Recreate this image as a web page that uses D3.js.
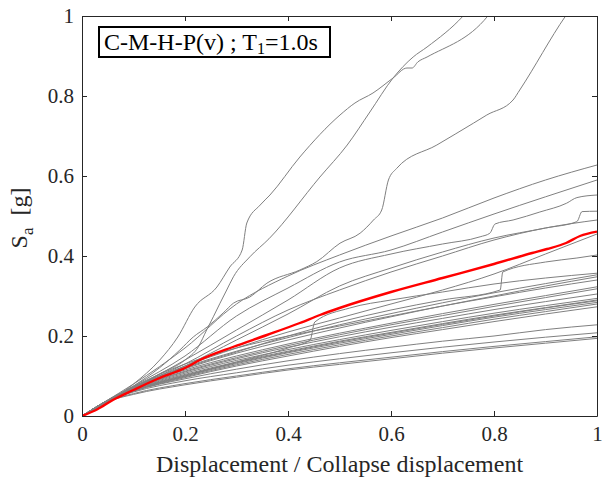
<!DOCTYPE html>
<html>
<head>
<meta charset="utf-8">
<script src="https://cdn.jsdelivr.net/npm/d3@7"></script>
<style>
  html, body { margin: 0; padding: 0; background: #fff; }
  svg { display: block; }
  svg text { font-family: "Liberation Serif", "Times New Roman", Times, "DejaVu Serif", serif !important; fill: #262626; }
</style>
</head>
<body>
<svg id="chart" width="615" height="479"></svg>
<script>
// ---------------- data ----------------
const xTicks = [0, 0.2, 0.4, 0.6, 0.8, 1];
const yTicks = [0, 0.2, 0.4, 0.6, 0.8, 1];
const xTickLabels = ["0", "0.2", "0.4", "0.6", "0.8", "1"];
const yTickLabels = ["0", "0.2", "0.4", "0.6", "0.8", "1"];
const xLabel = "Displacement / Collapse displacement";
const legendMain = "C-M-H-P(v) ; T";
const legendSub = "1";
const legendTail = "=1.0s";

// common abscissa for the regular curves
const xGrid = [0, 0.05, 0.1, 0.2, 0.3, 0.4, 0.5, 0.6, 0.7, 0.8, 0.9, 1];

// regular gray curves (ordinates on xGrid)
const g01 = [0, 0.036, 0.054, 0.078, 0.097, 0.115, 0.129, 0.143, 0.157, 0.170, 0.182, 0.194];
const g02 = [0, 0.037, 0.056, 0.081, 0.100, 0.118, 0.133, 0.147, 0.161, 0.174, 0.186, 0.198];
const g03 = [0, 0.038, 0.060, 0.088, 0.108, 0.127, 0.143, 0.158, 0.172, 0.185, 0.197, 0.208];
const g04 = [0, 0.038, 0.062, 0.093, 0.117, 0.138, 0.156, 0.172, 0.187, 0.200, 0.216, 0.228];
const g05 = [0, 0.038, 0.062, 0.096, 0.125, 0.150, 0.174, 0.196, 0.216, 0.236, 0.255, 0.273];
const g06 = [0, 0.038, 0.063, 0.098, 0.128, 0.154, 0.178, 0.200, 0.221, 0.242, 0.261, 0.280];
const g07 = [0, 0.038, 0.064, 0.100, 0.131, 0.158, 0.182, 0.204, 0.226, 0.247, 0.266, 0.284];
const g08 = [0, 0.039, 0.066, 0.104, 0.135, 0.162, 0.187, 0.209, 0.231, 0.252, 0.271, 0.290];
const g09 = [0, 0.039, 0.067, 0.107, 0.139, 0.166, 0.191, 0.214, 0.236, 0.257, 0.276, 0.294];
const g10 = [0, 0.039, 0.068, 0.110, 0.143, 0.172, 0.198, 0.222, 0.244, 0.266, 0.286, 0.305];
const g11 = [0, 0.039, 0.070, 0.115, 0.150, 0.180, 0.207, 0.232, 0.256, 0.279, 0.301, 0.323];
const g12 = [0, 0.039, 0.070, 0.118, 0.157, 0.190, 0.220, 0.248, 0.275, 0.300, 0.325, 0.348];
const g13 = [0, 0.039, 0.071, 0.122, 0.162, 0.196, 0.228, 0.256, 0.283, 0.308, 0.331, 0.353];
const g14 = [0, 0.039, 0.072, 0.125, 0.170, 0.210, 0.245, 0.280, 0.315, 0.355, 0.405, 0.455];
const g15 = [0, 0.039, 0.072, 0.130, 0.200, 0.265, 0.315, 0.360, 0.400, 0.440, 0.470, 0.490];
const g16 = [0, 0.039, 0.075, 0.150, 0.250, 0.320, 0.385, 0.415, 0.460, 0.505, 0.548, 0.590];
const g17 = [0, 0.040, 0.080, 0.170, 0.280, 0.350, 0.4025, 0.450, 0.495, 0.545, 0.590, 0.6275];
const g22 = [0, 0.039, 0.065, 0.102, 0.133, 0.160, 0.185, 0.207, 0.229, 0.250, 0.270, 0.288];
const g23 = [0, 0.039, 0.069, 0.112, 0.146, 0.176, 0.203, 0.228, 0.251, 0.274, 0.296, 0.318];
const g24 = [0, 0.040, 0.074, 0.130, 0.170, 0.200, 0.225, 0.250, 0.275, 0.298, 0.320, 0.340];

// irregular gray curves ([x, y] points)
const g18 = [[0,0],[0.05,0.039],[0.1,0.07],[0.2,0.14],[0.3,0.215],[0.4,0.29],[0.5,0.37],[0.6,0.405],[0.7,0.43],[0.773,0.448],[0.792,0.457],[0.802,0.48],[0.837,0.49],[0.889,0.51],[0.941,0.532],[0.961,0.546],[1,0.5525]];
const g19 = [[0,0],[0.05,0.039],[0.1,0.068],[0.2,0.125],[0.3,0.19],[0.4,0.255],[0.5,0.325],[0.6,0.37],[0.7,0.41],[0.8,0.445],[0.9,0.47],[0.961,0.486],[0.971,0.511],[1,0.512]];
const g20 = [[0,0],[0.05,0.038],[0.1,0.064],[0.2,0.1],[0.3,0.135],[0.4,0.17],[0.443,0.19],[0.452,0.235],[0.52,0.27],[0.6,0.29],[0.7,0.31],[0.8,0.33],[0.9,0.345],[1,0.357]];
const g21 = [[0,0],[0.05,0.039],[0.1,0.07],[0.2,0.12],[0.3,0.16],[0.4,0.2],[0.5,0.235],[0.6,0.265],[0.7,0.29],[0.812,0.315],[0.817,0.36],[0.9,0.385],[0.961,0.395],[1,0.4025]];
const steep1 = [[0,0],[0.05,0.035],[0.1,0.08],[0.151,0.14],[0.186,0.1975],[0.219,0.2725],[0.262,0.3225],[0.287,0.3725],[0.311,0.415],[0.32,0.4825],[0.346,0.5275],[0.365,0.5525],[0.423,0.6475],[0.501,0.7525],[0.53,0.7825],[0.565,0.8075],[0.604,0.845],[0.631,0.87],[0.641,0.87],[0.652,0.885],[0.67,0.8975],[0.788,1.0],[0.8,1.02]];
const steep2 = [[0,0],[0.05,0.034],[0.1,0.07],[0.15,0.105],[0.2,0.14],[0.226,0.173],[0.242,0.215],[0.255,0.248],[0.268,0.282],[0.281,0.315],[0.294,0.348],[0.326,0.398],[0.363,0.443],[0.462,0.5975],[0.515,0.6775],[0.559,0.76],[0.604,0.845],[0.643,0.8975],[0.67,0.9225],[0.74,1.0],[0.76,1.03]];
const steep3 = [[0,0],[0.05,0.034],[0.1,0.075],[0.15,0.12],[0.19,0.165],[0.216,0.1975],[0.243,0.2225],[0.274,0.2575],[0.294,0.282],[0.326,0.2975],[0.359,0.332],[0.423,0.365],[0.456,0.386],[0.501,0.432],[0.54,0.457],[0.566,0.49],[0.582,0.515],[0.595,0.59],[0.611,0.619],[0.689,0.6775],[0.76,0.732],[0.786,0.7525],[0.837,0.79],[0.85,0.815],[0.939,1.0],[0.95,1.02]];

// median curve (red)
const median = [[0,0],[0.03,0.017],[0.06,0.04],[0.1,0.065],[0.146,0.0925],[0.2,0.12],[0.229,0.14],[0.293,0.1725],[0.359,0.2025],[0.423,0.2325],[0.462,0.2525],[0.5,0.27],[0.6,0.31],[0.7,0.345],[0.8,0.38],[0.874,0.4075],[0.903,0.4175],[0.94,0.4325],[0.967,0.45],[1,0.461]];

const regularSeries = [g01,g02,g03,g04,g05,g06,g07,g08,g09,g10,g11,g12,g13,g14,g15,g16,g17,g22,g23,g24];
const irregularSeries = [g18,g19,g20,g21,steep1,steep2,steep3];

// ---------------- drawing ----------------
const W = 615, H = 479;
const m = { left: 82, right: 18, top: 16, bottom: 63 };
const pw = W - m.left - m.right, ph = H - m.top - m.bottom;
const svg = d3.select("#chart");
const x = d3.scaleLinear().domain([0, 1]).range([m.left, m.left + pw]);
const y = d3.scaleLinear().domain([0, 1]).range([m.top + ph, m.top]);
const FONT = "'Liberation Serif', 'Times New Roman', Times, 'DejaVu Serif', serif";

svg.append("defs").append("clipPath").attr("id", "clip")
  .append("rect").attr("x", m.left).attr("y", m.top).attr("width", pw).attr("height", ph);

const line = d3.line().x(d => x(d[0])).y(d => y(d[1])).curve(d3.curveMonotoneX);
const gLines = svg.append("g").attr("clip-path", "url(#clip)");

const allGray = regularSeries.map(s => s.map((v, i) => [xGrid[i], v])).concat(irregularSeries);
gLines.selectAll("path.gray").data(allGray).join("path")
  .attr("class", "gray").attr("d", line)
  .attr("fill", "none").attr("stroke", "#808080").attr("stroke-width", 1);

gLines.append("path").datum(median).attr("d", line)
  .attr("fill", "none").attr("stroke", "#ff0000").attr("stroke-width", 2.4);

// axes
const axColor = "#262626";
const fmtX = (d, i) => xTickLabels[i];
const fmtY = (d, i) => yTickLabels[i];
const axB = svg.append("g").attr("transform", `translate(0,${m.top + ph})`)
  .call(d3.axisBottom(x).tickValues(xTicks).tickFormat(fmtX).tickSizeInner(-5).tickSizeOuter(0).tickPadding(10));
const axL = svg.append("g").attr("transform", `translate(${m.left},0)`)
  .call(d3.axisLeft(y).tickValues(yTicks).tickFormat(fmtY).tickSizeInner(-5).tickSizeOuter(0).tickPadding(8));
const axT = svg.append("g").attr("transform", `translate(0,${m.top})`)
  .call(d3.axisTop(x).tickValues(xTicks).tickFormat("").tickSizeInner(-5).tickSizeOuter(0));
const axR = svg.append("g").attr("transform", `translate(${m.left + pw},0)`)
  .call(d3.axisRight(y).tickValues(yTicks).tickFormat("").tickSizeInner(-5).tickSizeOuter(0));
[axB, axL, axT, axR].forEach(g => {
  g.attr("font-family", null);
  g.selectAll("path.domain").attr("stroke", axColor).attr("stroke-width", 1);
  g.selectAll("line").attr("stroke", axColor).attr("stroke-width", 1);
  g.selectAll("text").style("font-family", FONT).attr("font-size", 21).attr("fill", axColor);
});
axB.selectAll(".tick text").attr("dy", "0.71em");

// axis labels
svg.append("text").style("font-family", FONT).attr("x", x(0.5)).attr("y", 472).attr("text-anchor", "middle")
  .attr("font-size", 24).text(xLabel);

const yl = svg.append("text").style("font-family", FONT).attr("transform", "translate(27,218) rotate(-90)")
  .attr("text-anchor", "middle").attr("font-size", 24).attr("xml:space", "preserve");
yl.append("tspan").text("S");
yl.append("tspan").attr("font-size", 17).attr("dy", 6).text("a");
yl.append("tspan").attr("dy", -6).text("  [g]");

// legend box
const lb = svg.append("g");
lb.append("rect").attr("x", 99).attr("y", 27).attr("width", 231).attr("height", 30)
  .attr("fill", "#fff").attr("stroke", "#000").attr("stroke-width", 2);
const lt = lb.append("text").style("font-family", FONT).style("fill", "#000")
  .attr("x", 104).attr("y", 50).attr("font-size", 24).attr("xml:space", "preserve");
lt.append("tspan").text(legendMain);
lt.append("tspan").attr("font-size", 16).attr("dy", 4).text(legendSub);
lt.append("tspan").attr("dy", -4).text(legendTail);
</script>
</body>
</html>
